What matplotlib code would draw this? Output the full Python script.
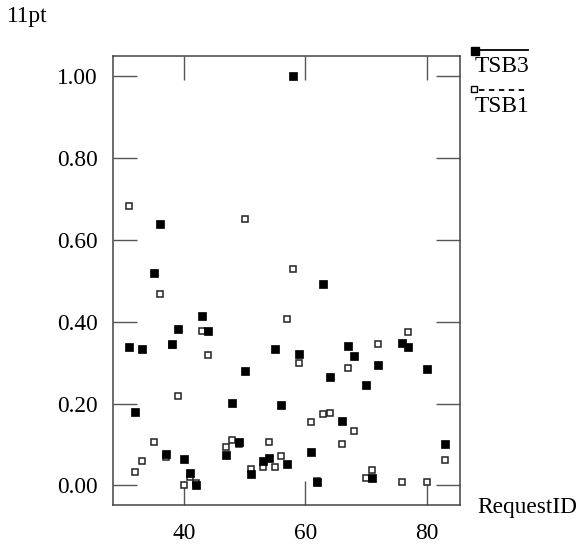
import matplotlib
matplotlib.use("Agg")
import matplotlib.pyplot as plt

plt.rcParams['font.family'] = ['Liberation Serif', 'DejaVu Serif']

request_id = [31, 32, 33, 35, 36, 37, 38, 39, 40, 41, 42, 43, 44, 47, 48, 49, 50,
              51, 53, 54, 55, 56, 57, 58, 59, 61, 62, 63, 64, 66, 67, 68, 70,
              71, 72, 76, 77, 80, 83]
tsb3 = [0.337, 0.179, 0.332, 0.519, 0.639, 0.077, 0.346, 0.383, 0.065, 0.031,
        0.002, 0.413, 0.378, 0.075, 0.201, 0.106, 0.280, 0.028, 0.059, 0.068,
        0.332, 0.197, 0.053, 1.000, 0.322, 0.082, 0.008, 0.491, 0.266, 0.158,
        0.341, 0.315, 0.246, 0.019, 0.293, 0.347, 0.339, 0.285, 0.102]
tsb1 = [0.683, 0.033, 0.059, 0.106, 0.467, 0.070, 0.343, 0.219, 0.001, 0.020,
        0.005, 0.376, 0.318, 0.093, 0.111, 0.100, 0.650, 0.039, 0.046, 0.105,
        0.045, 0.073, 0.407, 0.529, 0.299, 0.156, 0.010, 0.175, 0.176, 0.100,
        0.287, 0.134, 0.019, 0.037, 0.346, 0.008, 0.374, 0.009, 0.063]
xticks = [40, 60, 80]
yticks = [0.0, 0.2, 0.4, 0.6, 0.8, 1.0]

W, H = 579, 546
fig = plt.figure(figsize=(W/100, H/100), dpi=100)
ax = fig.add_axes([113/W, 1-504.5/H, (460.5-113)/W, (504.5-55.5)/H])

ax.plot(request_id, tsb1, 's', ms=5.0, mfc='white', mec='#222222', mew=1.1, ls='none')
ax.plot(request_id, tsb3, 's', ms=5.3, mfc='black', mec='black', mew=0.5, ls='none')

ax.set_xlim(28.3, 85.6)
ax.set_ylim(-0.0466, 1.05)
ax.set_xticks(xticks)
ax.set_yticks(yticks)
ax.set_yticklabels(['%.2f' % v for v in yticks])
ax.tick_params(direction='in', length=17, width=1.0, color='#555555',
               top=True, right=True, labelsize=16.8, pad=11)
ax.tick_params(axis='x', pad=13)
for s in ax.spines.values():
    s.set_color('#444444')
    s.set_linewidth(1.1)

fig.text(477/W, 1-513/H, 'RequestID', fontsize=16.8, va='baseline', ha='left')
fig.text(7/W, 1-22/H, '11pt', fontsize=16.8, va='baseline', ha='left')

# legend drawn by hand, marker at left end, label underneath
fig.add_artist(plt.Line2D([475/W, 528/W], [1-50/H, 1-50/H], color='black', lw=1.3,
                          transform=fig.transFigure))
fig.add_artist(plt.Line2D([475/W], [1-51/H], marker='s', ms=5.3, color='black',
                          transform=fig.transFigure))
fig.text(475/W, 1-72/H, 'TSB3', fontsize=16.8, va='baseline', ha='left')
fig.add_artist(plt.Line2D([479/W, 528/W], [1-90/H, 1-90/H], color='black', lw=1.3,
                          ls=(0, (3, 2.5)), transform=fig.transFigure))
fig.add_artist(plt.Line2D([474/W], [1-89/H], marker='s', ms=4.2, mfc='white', mec='black',
                          mew=1, transform=fig.transFigure))
fig.text(475/W, 1-112/H, 'TSB1', fontsize=16.8, va='baseline', ha='left')

fig.savefig('out.png', dpi=100)
